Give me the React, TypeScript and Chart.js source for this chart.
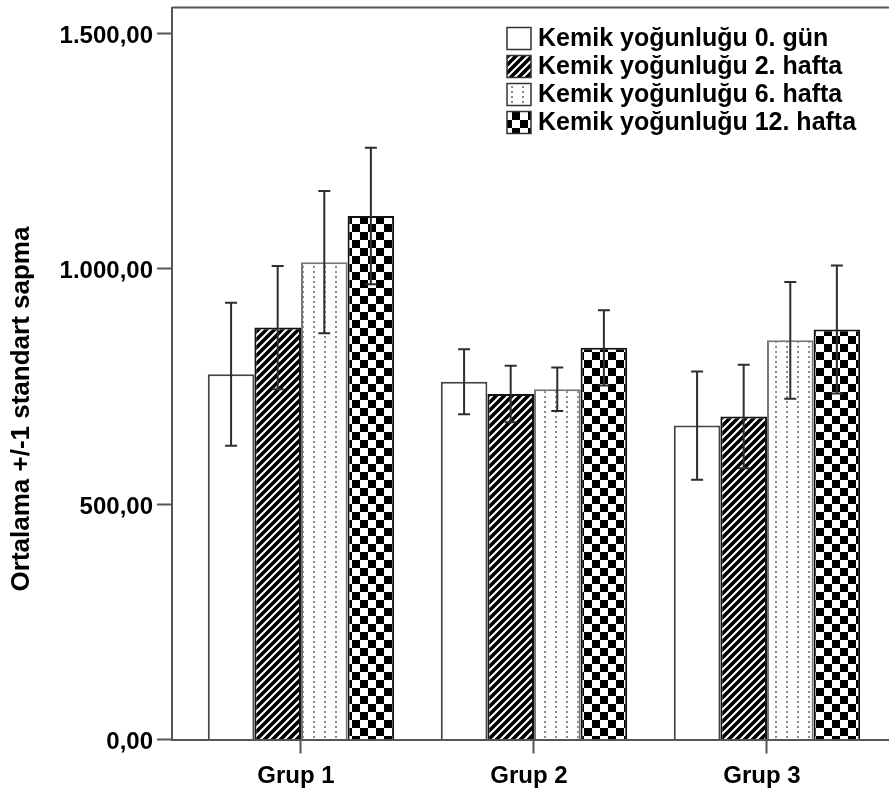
import React, { useEffect, useRef } from 'react';
import { Chart, registerables } from 'chart.js';

Chart.register(...registerables);

// ---- data ----
const categories = ['Grup 1', 'Grup 2', 'Grup 3'];
const seriesLabels = [
  'Kemik yoğunluğu 0. gün',
  'Kemik yoğunluğu 2. hafta',
  'Kemik yoğunluğu 6. hafta',
  'Kemik yoğunluğu 12. hafta',
];
const mean0 = [776, 760, 667];
const mean2 = [875, 734, 686];
const mean6 = [1014, 744, 848];
const mean12 = [1112, 832, 871];
const sd0 = [152, 69, 115];
const sd2 = [131, 60, 110];
const sd6 = [151, 46, 124];
const sd12 = [145, 80, 136];
const yTicks = [0, 500, 1000, 1500];
const yMax = 1555;
const yTitle = 'Ortalama +/-1 standart sapma';

const meansList = [mean0, mean2, mean6, mean12];
const sdList = [sd0, sd2, sd6, sd12];
const xPos = categories.map((_, i) => i + 1);

const FONT = '"Liberation Sans", Arial, sans-serif';

function makeCanvas(w: number, h: number) {
  const c = document.createElement('canvas');
  c.width = w;
  c.height = h;
  return c;
}

function stripePattern(ctx: CanvasRenderingContext2D) {
  const s = 8;
  const c = makeCanvas(s, s);
  const g = c.getContext('2d')!;
  g.fillStyle = '#000';
  g.fillRect(0, 0, s, s);
  g.strokeStyle = '#fff';
  g.lineWidth = 2;
  g.beginPath();
  g.moveTo(-2, s + 2);
  g.lineTo(s + 2, -2);
  g.moveTo(-2, 2);
  g.lineTo(2, -2);
  g.moveTo(s - 2, s + 2);
  g.lineTo(s + 2, s - 2);
  g.stroke();
  return ctx.createPattern(c, 'repeat')!;
}

function dotPattern(ctx: CanvasRenderingContext2D) {
  const c = makeCanvas(11, 5);
  const g = c.getContext('2d')!;
  g.fillStyle = '#fff';
  g.fillRect(0, 0, 11, 5);
  g.fillStyle = '#8a8a8a';
  g.fillRect(5, 1, 2, 2);
  return ctx.createPattern(c, 'repeat')!;
}

function checkerPattern(ctx: CanvasRenderingContext2D) {
  const s = 8;
  const c = makeCanvas(2 * s, 2 * s);
  const g = c.getContext('2d')!;
  g.fillStyle = '#fff';
  g.fillRect(0, 0, 2 * s, 2 * s);
  g.fillStyle = '#000';
  g.fillRect(0, 0, s, s);
  g.fillRect(s, s, s, s);
  return ctx.createPattern(c, 'repeat')!;
}

function fmt(v: number) {
  const fixed = v.toFixed(2).split('.');
  const int = fixed[0].replace(/\B(?=(\d{3})+(?!\d))/g, '.');
  return int + ',' + fixed[1];
}

const customPlugin = {
  id: 'customDecor',
  afterDatasetsDraw(chart: any) {
    const ctx = chart.ctx;
    const ys = chart.scales.y;
    chart.data.datasets.forEach((ds: any, di: number) => {
      const meta = chart.getDatasetMeta(di);
      const sds = sdList[di];
      meta.data.forEach((bar: any, i: number) => {
        const m = ds.data[i].y;
        const s = sds[i];
        const yt = ys.getPixelForValue(m + s);
        const yb = ys.getPixelForValue(m - s);
        ctx.save();
        ctx.strokeStyle = '#2e2e2e';
        ctx.lineWidth = 2;
        ctx.beginPath();
        ctx.moveTo(bar.x, yt);
        ctx.lineTo(bar.x, yb);
        ctx.moveTo(bar.x - 6, yt);
        ctx.lineTo(bar.x + 6, yt);
        ctx.moveTo(bar.x - 6, yb);
        ctx.lineTo(bar.x + 6, yb);
        ctx.stroke();
        ctx.restore();
      });
    });
  },
  afterDraw(chart: any) {
    const ctx = chart.ctx;
    const area = chart.chartArea;
    ctx.save();
    // top frame line
    ctx.strokeStyle = '#555';
    ctx.lineWidth = 2;
    ctx.beginPath();
    ctx.moveTo(area.left, area.top);
    ctx.lineTo(chart.width, area.top);
    ctx.stroke();

    // legend
    const boxX = 507;
    const boxW = 24;
    const boxH = 22;
    const firstCenter = 38.5;
    const rowGap = 28;
    chart.data.datasets.forEach((ds: any, i: number) => {
      const cy = firstCenter + i * rowGap;
      ctx.fillStyle = ds.backgroundColor;
      ctx.fillRect(boxX, cy - boxH / 2, boxW, boxH);
      ctx.strokeStyle = '#333';
      ctx.lineWidth = 1.5;
      ctx.strokeRect(boxX, cy - boxH / 2, boxW, boxH);
      ctx.fillStyle = '#000';
      ctx.font = 'bold 25px ' + FONT;
      ctx.textAlign = 'left';
      ctx.textBaseline = 'middle';
      ctx.fillText(ds.label, 538, cy + 1);
    });

    // y title
    ctx.translate(22, 409);
    ctx.rotate(-Math.PI / 2);
    ctx.textAlign = 'center';
    ctx.textBaseline = 'middle';
    ctx.font = 'bold 26px ' + FONT;
    ctx.fillStyle = '#000';
    ctx.fillText(yTitle, 0, 0);
    ctx.restore();
  },
};

export default function App() {
  const ref = useRef<HTMLCanvasElement | null>(null);

  useEffect(() => {
    document.body.style.margin = '0';
    const canvas = ref.current!;
    const ctx = canvas.getContext('2d')!;
    const fills = [
      '#ffffff',
      stripePattern(ctx),
      dotPattern(ctx),
      checkerPattern(ctx),
    ];
    const borders = ['#444', '#111', '#777', '#111'];

    const chart = new Chart(canvas, {
      type: 'bar',
      data: {
        datasets: seriesLabels.map((label, di) => ({
          label,
          data: meansList[di].map((v, i) => ({ x: xPos[i], y: v })),
          backgroundColor: fills[di] as any,
          borderColor: borders[di],
          borderWidth: 2,
          categoryPercentage: 0.8,
          barPercentage: 1,
        })),
      },
      options: {
        animation: false,
        responsive: false,
        devicePixelRatio: 1,
        layout: { padding: { top: 7.5, left: 0, right: 0, bottom: 0 } },
        plugins: {
          legend: { display: false },
          title: { display: false },
          tooltip: { enabled: false },
        },
        scales: {
          x: {
            type: 'linear',
            offset: false,
            min: 0.4464,
            max: 3.5237,
            afterBuildTicks: (s: any) => {
              s.ticks = xPos.map((v) => ({ value: v }));
            },
            afterFit: (s: any) => {
              s.height = 51.5;
              s.paddingLeft = 0;
              s.paddingRight = 0;
            },
            ticks: {
              callback: (v: any) => categories[Math.round(v) - 1] ?? '',
              font: { family: FONT, size: 24, weight: 'bold' },
              color: '#000',
              padding: 8,
              labelOffset: -5,
              maxRotation: 0,
            },
            grid: {
              display: true,
              offset: false,
              drawOnChartArea: false,
              drawTicks: true,
              tickLength: 14,
              tickColor: '#555',
              tickWidth: 2,
            },
            border: { display: true, color: '#555', width: 2 },
          },
          y: {
            type: 'linear',
            min: 0,
            max: yMax,
            afterBuildTicks: (s: any) => {
              s.ticks = yTicks.map((v) => ({ value: v }));
            },
            afterFit: (s: any) => {
              s.width = 172;
              s.paddingTop = 0;
              s.paddingBottom = 0;
            },
            ticks: {
              callback: (v: any) => fmt(Number(v)),
              font: { family: FONT, size: 24, weight: 'bold' },
              color: '#000',
              padding: 4,
              labelOffset: 3,
            },
            grid: {
              display: true,
              drawOnChartArea: false,
              drawTicks: true,
              tickLength: 15,
              tickColor: '#555',
              tickWidth: 2,
            },
            border: { display: true, color: '#555', width: 2 },
          },
        },
      } as any,
      plugins: [customPlugin],
    });
    return () => chart.destroy();
  }, []);

  return (
    <div style={{ width: 889, height: 791, overflow: 'hidden' }}>
      <canvas ref={ref} width={889} height={791} style={{ display: 'block' }} />
    </div>
  );
}
